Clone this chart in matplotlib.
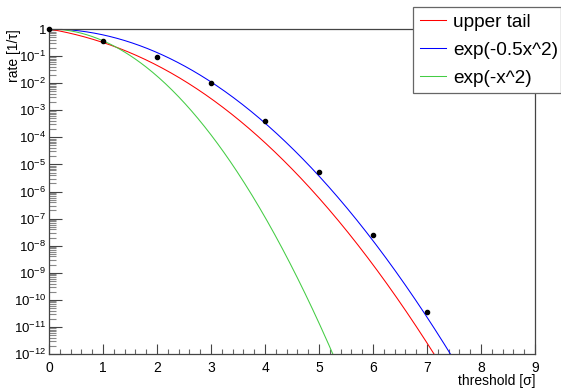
import math
import numpy as np
import matplotlib
matplotlib.use("Agg")
import matplotlib.pyplot as plt
from matplotlib.ticker import FixedLocator, MultipleLocator, NullFormatter, FixedFormatter

plt.rcParams['font.family'] = ['Liberation Sans', 'DejaVu Sans']
plt.rcParams['mathtext.fontset'] = 'custom'
plt.rcParams['mathtext.rm'] = 'Liberation Sans'
plt.rcParams['mathtext.it'] = 'Liberation Sans:italic'

thresholds = [0, 1, 2, 3, 4, 5, 6, 7]
measured_rate = [1.0, 0.37, 0.09, 1.05e-2, 4.0e-4, 5.2e-6, 2.5e-8, 3.7e-11]

# curves named in the legend
x_grid = np.linspace(0, 9, 451)
upper_tail = np.array([math.erfc(v / math.sqrt(2)) for v in x_grid])
gauss_half = np.exp(-0.5 * x_grid ** 2)
gauss_full = np.exp(-x_grid ** 2)

y_exponents = list(range(-12, 1))
y_labels = ['1' if e == 0 else r'$\mathregular{10^{%d}}$' % e for e in y_exponents]

fig = plt.figure(figsize=(5.61, 3.89), dpi=100)
ax = fig.add_axes([49 / 561, 1 - 354 / 389, 486 / 561, 325 / 389])

ax.plot(x_grid, upper_tail, color='#ff0000', lw=0.75, label='upper tail')
ax.plot(x_grid, gauss_half, color='#0000ff', lw=0.75, label='exp(-0.5x^2)')
ax.plot(x_grid, gauss_full, color='#44cc44', lw=0.75, label='exp(-x^2)')
ax.plot(thresholds, measured_rate, 'o', color='black', ms=3.0, clip_on=False, zorder=4)

ax.set_yscale('log')
ax.set_xlim(0, 9)
ax.set_ylim(1e-12, 1)

ax.yaxis.set_major_locator(FixedLocator([10.0 ** e for e in y_exponents]))
ax.yaxis.set_major_formatter(FixedFormatter(y_labels))
minor = [m * 10.0 ** e for e in range(-12, 0) for m in range(2, 10)]
ax.yaxis.set_minor_locator(FixedLocator(minor))
ax.yaxis.set_minor_formatter(NullFormatter())
ax.xaxis.set_major_locator(MultipleLocator(1))
ax.xaxis.set_minor_locator(MultipleLocator(0.2))

ax.tick_params(axis='y', which='major', direction='in', length=9, width=0.8,
               color='#444444', labelsize=9.5, pad=2)
ax.tick_params(axis='y', which='minor', direction='in', length=5, width=0.8,
               color='#888888')
ax.tick_params(axis='x', which='major', direction='in', length=7, width=0.8,
               color='#444444', labelsize=10, pad=5)
ax.tick_params(axis='x', which='minor', direction='in', length=3.6, width=0.8,
               color='#666666')

for s in ax.spines.values():
    s.set_color('#444444')
    s.set_linewidth(0.9)

fig.text(14 / 561, 1 - 29 / 389, 'rate [1/τ]', rotation=90,
         ha='center', va='top', fontsize=10)
fig.text(535 / 561, 1 - 388 / 389, 'threshold [σ]',
         ha='right', va='bottom', fontsize=10)

leg = ax.legend(loc='upper left', bbox_to_anchor=(413 / 561, 1 - 7 / 389, 148 / 561, 0),
                bbox_transform=fig.transFigure, mode='expand', fontsize=13.7,
                frameon=True, fancybox=False, framealpha=1, edgecolor='#666666',
                borderpad=0.35, labelspacing=0.55, handlelength=1.4,
                handletextpad=0.35, borderaxespad=0)
leg.get_frame().set_linewidth(0.9)

fig.savefig('out.png', dpi=100)
